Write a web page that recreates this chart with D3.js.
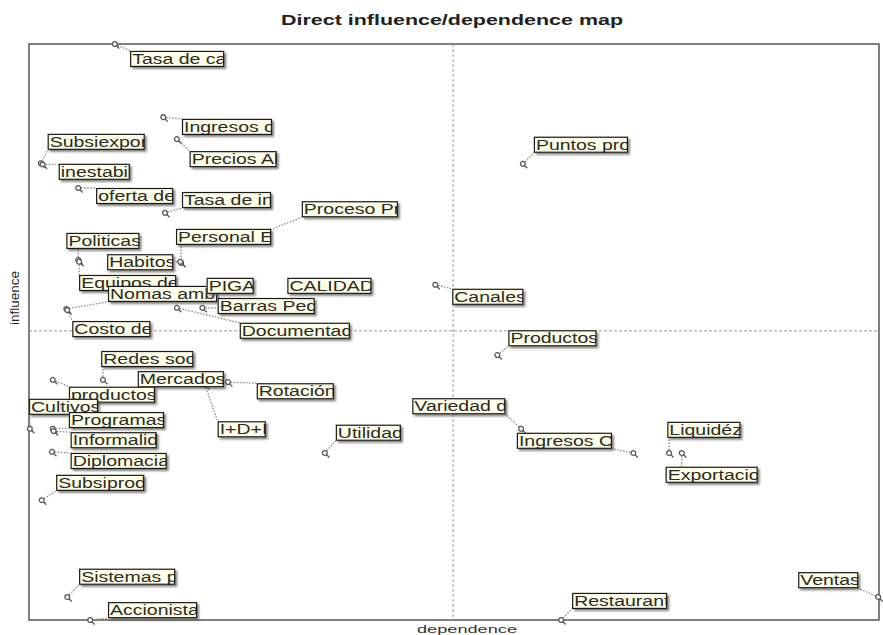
<!DOCTYPE html>
<html>
<meta charset="utf-8">
<head>
<title>Direct influence/dependence map</title>
<style>
  body { margin: 0; background: #fff; }
  text { font-family: "Liberation Sans", Arial, sans-serif; }
</style>
</head>
<body>
<script src="https://d3js.org/d3.v7.min.js"></script>
<script>

// variables (labels truncated as in the map)
var names = ["Tasa de ca", "Ingresos c", "Precios Al", "Subsiexpor", "inestabil", "oferta de",
  "Tasa de in", "Proceso Pr", "Personal E", "Habitos", "Politicas", "Equipos de",
  "Nomas ambi", "Costo de", "PIGA", "CALIDAD", "Barras Peq", "Documentad",
  "Redes soc", "Mercados ", "Rotación", "I+D+I", "productos", "Cultivos ",
  "Programas", "Informalid", "Diplomacia", "Subsiprod", "Sistemas p", "Accionista",
  "Utilidad", "Puntos pro", "Canales", "Productos", "Variedad d", "Ingresos O",
  "Liquidéz", "Exportacio", "Ventas", "Restaurant"];

var dependence = [10.1, 15.8, 17.4, 1.4, 1.6, 5.8,
  16.0, 27.4, 17.9, 17.8, 5.8, 5.9,
  4.4, 4.5, 21.9, 31.9, 20.4, 17.4,
  8.7, 18.4, 23.4, 20.7, 2.8, 0.1,
  2.8, 2.9, 2.7, 1.5, 4.5, 7.2,
  34.8, 58.1, 47.8, 55.1, 57.9, 71.1,
  75.3, 76.8, 99.9, 62.6];

var influence = [100, 87.3, 83.5, 79.3, 79.1, 75.0,
  70.7, 67.2, 62.0, 62.2, 62.5, 62.2,
  54.0, 53.8, 57.6, 57.8, 54.2, 54.2,
  41.7, 41.7, 41.3, 40.8, 41.7, 33.2,
  33.2, 32.8, 29.2, 20.8, 4.0, 0,
  29.0, 79.2, 58.2, 46.0, 33.2, 29.0,
  29.0, 29.0, 4.0, 0];

// where each label box sits (top-left corner, same units)
var labelDep = [11.9, 18.0, 18.9, 2.2, 3.5, 7.9,
  18.0, 32.1, 17.3, 9.2, 4.4, 5.9,
  9.3, 5.1, 20.9, 30.4, 22.2, 24.8,
  8.5, 12.8, 26.8, 22.2, 4.7, 0,
  4.7, 4.9, 4.9, 3.2, 5.9, 9.3,
  36.1, 59.4, 49.8, 56.4, 45.1, 57.4,
  75.1, 74.9, 90.5, 63.9];

var labelInf = [98.8, 87.0, 81.4, 84.4, 79.2, 75.0,
  74.3, 72.7, 67.9, 63.5, 67.2, 59.9,
  58.0, 51.9, 59.4, 59.4, 55.9, 51.6,
  46.7, 43.2, 41.1, 34.5, 40.5, 38.4,
  36.1, 32.6, 29.0, 25.2, 8.9, 3.1,
  33.9, 83.9, 57.5, 50.3, 38.5, 32.5,
  34.4, 26.6, 8.3, 4.7];

// plane split (averages)
var crossDep = 49.9;
var crossInf = 50.2;

var data = names.map(function(n, i) {
  return {name: n, dep: dependence[i], inf: influence[i], ldep: labelDep[i], linf: labelInf[i]};
});

var W = 883, H = 635;
var plot = {left: 29, right: 879, top: 44, bottom: 620};
var boxH = 16, sx = 1.3;

var x = d3.scaleLinear().domain([0, 100]).range([plot.left, plot.right]);
var y = d3.scaleLinear().domain([0, 100]).range([plot.bottom, plot.top]);

var svg = d3.select("body").append("svg")
    .attr("width", W)
    .attr("height", H);

var defs = svg.append("defs");
defs.append("filter").attr("id", "shadow")
    .attr("x", "-20%").attr("y", "-40%").attr("width", "140%").attr("height", "180%")
  .append("feGaussianBlur").attr("stdDeviation", 0.8);

svg.append("text")
    .attr("x", 452)
    .attr("y", 25)
    .attr("text-anchor", "middle")
    .attr("font-size", 15)
    .attr("font-weight", "bold")
    .attr("fill", "#222")
    .attr("textLength", 342)
    .attr("lengthAdjust", "spacingAndGlyphs")
    .text("Direct influence/dependence map");

// frame
svg.append("rect")
    .attr("x", plot.left)
    .attr("y", plot.top)
    .attr("width", plot.right - plot.left)
    .attr("height", plot.bottom - plot.top)
    .attr("fill", "none")
    .attr("stroke", "#555")
    .attr("stroke-width", 1.5);

svg.append("line")
    .attr("x1", x(crossDep)).attr("x2", x(crossDep))
    .attr("y1", plot.top).attr("y2", plot.bottom)
    .attr("stroke", "#999").attr("stroke-dasharray", "3,2");

svg.append("line")
    .attr("x1", plot.left).attr("x2", plot.right)
    .attr("y1", y(crossInf)).attr("y2", y(crossInf))
    .attr("stroke", "#999").attr("stroke-dasharray", "3,2");

svg.append("text")
    .attr("x", 467)
    .attr("y", 633)
    .attr("text-anchor", "middle")
    .attr("font-size", 11)
    .attr("fill", "#333")
    .attr("textLength", 100)
    .attr("lengthAdjust", "spacingAndGlyphs")
    .text("dependence");

svg.append("text")
    .attr("transform", "translate(19,298) rotate(-90)")
    .attr("text-anchor", "middle")
    .attr("font-size", 12)
    .attr("fill", "#222")
    .attr("textLength", 54)
    .attr("lengthAdjust", "spacingAndGlyphs")
    .text("influence");

var gLines = svg.append("g");
var gPoints = svg.append("g");
var gLabels = svg.append("g");

// labels first, to know their widths
gLabels.selectAll("g")
    .data(data)
    .enter().append("g")
    .attr("transform", function(d) { return "translate(" + x(d.ldep) + "," + y(d.linf) + ")"; })
    .each(function(d, i) {
      var g = d3.select(this);
      var shadow = g.append("rect");
      var bg = g.append("rect");
      var tg = g.append("g").attr("clip-path", "url(#clip" + i + ")");
      var t = tg.append("text")
          .attr("transform", "translate(2,13) scale(" + sx + ",1)")
          .attr("font-size", 15)
          .attr("fill", "#2b2b22")
          .text(d.name);
      d.w = Math.round(t.node().getComputedTextLength() * sx);
      defs.append("clipPath").attr("id", "clip" + i)
        .append("rect").attr("width", d.w).attr("height", boxH);
      shadow
          .attr("x", 2).attr("y", 2)
          .attr("width", d.w).attr("height", boxH)
          .attr("fill", "#555")
          .attr("opacity", 0.75)
          .attr("filter", "url(#shadow)");
      bg
          .attr("width", d.w).attr("height", boxH)
          .attr("fill", "#fdfde9");
      g.append("rect")
          .attr("x", 0.5).attr("y", 0.5)
          .attr("width", d.w - 1).attr("height", boxH - 1)
          .attr("fill", "none")
          .attr("stroke", "#1a1a1a")
          .attr("stroke-width", 1.2);
    });

// dotted leader from each point to its box
gLines.selectAll("line")
    .data(data)
    .enter().append("line")
    .attr("x1", function(d) { return x(d.dep); })
    .attr("y1", function(d) { return y(d.inf); })
    .attr("x2", function(d) {
      var bx = x(d.ldep);
      return Math.max(bx, Math.min(bx + d.w, x(d.dep)));
    })
    .attr("y2", function(d) {
      var by = y(d.linf);
      return Math.max(by, Math.min(by + boxH, y(d.inf)));
    })
    .attr("stroke", "#8a8a8a")
    .attr("stroke-width", 1.3)
    .attr("stroke-dasharray", "1.5,1.5");

var pts = gPoints.selectAll("g")
    .data(data)
    .enter().append("g")
    .attr("transform", function(d) { return "translate(" + x(d.dep) + "," + y(d.inf) + ")"; });

pts.append("circle")
    .attr("r", 2.4)
    .attr("fill", "#fff")
    .attr("stroke", "#555")
    .attr("stroke-width", 1.3);

pts.append("line")
    .attr("x1", 1.8).attr("y1", 1.8)
    .attr("x2", 4.5).attr("y2", 4.5)
    .attr("stroke", "#555")
    .attr("stroke-width", 1.3);

</script>
</body>
</html>
